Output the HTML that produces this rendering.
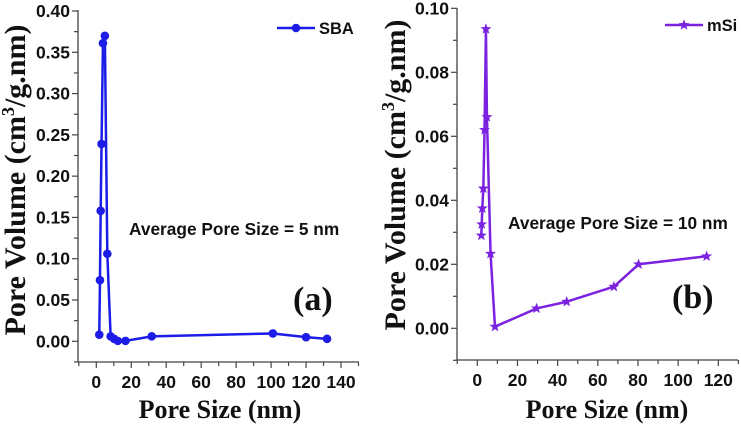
<!DOCTYPE html>
<html><head><meta charset="utf-8"><style>
body{margin:0;background:#fff;}
svg{display:block;}
.tk{font-family:"Liberation Sans",sans-serif;font-weight:bold;font-size:17.5px;fill:#111;}
.tt{font-family:"Liberation Serif",serif;font-weight:bold;font-size:26px;fill:#111;}
.yt{font-family:"Liberation Serif",serif;font-weight:bold;font-size:30px;fill:#111;}
.an{font-family:"Liberation Sans",sans-serif;font-weight:bold;font-size:17.3px;fill:#111;}
.lg{font-family:"Liberation Sans",sans-serif;font-weight:bold;font-size:16.5px;fill:#111;}
.pl{font-family:"Liberation Serif",serif;font-weight:bold;font-size:34px;fill:#111;}
</style></head><body>
<svg id="c" width="741" height="428" viewBox="0 0 741 428" xmlns="http://www.w3.org/2000/svg"></svg>
<script>
const sbaX=[1.7,2.1,2.5,3.0,3.8,4.9,6.3,8.2,10.2,12.3,16.7,31.7,101,120,132];
const sbaY=[0.008,0.074,0.158,0.239,0.361,0.370,0.106,0.006,0.003,0.0005,0.0005,0.006,0.0095,0.005,0.003];
const msiX=[2.0,2.2,2.5,3.0,3.6,4.3,4.8,6.6,8.8,29.5,44.5,68,80.3,114.2];
const msiY=[0.029,0.0325,0.0375,0.0437,0.062,0.0935,0.066,0.0233,0.0005,0.0062,0.0083,0.013,0.020,0.0225];
const aXTicks=[0,20,40,60,80,100,120,140];
const aYTicks=["0.00","0.05","0.10","0.15","0.20","0.25","0.30","0.35","0.40"];
const bXTicks=[0,20,40,60,80,100,120];
const bYTicks=["0.00","0.02","0.04","0.06","0.08","0.10"];
const NS="http://www.w3.org/2000/svg";
const svg=document.getElementById('c');
function mk(t,a,p){const e=document.createElementNS(NS,t);for(const k in a)e.setAttribute(k,a[k]);(p||svg).appendChild(e);return e;}
function panel(o){
  const g=mk('g',{});
  
  
  const sx=v=>o.x0+(v-o.xa)*(o.x1-o.x0)/(o.xb-o.xa);
  const sy=v=>o.y0+(v-o.ya)*(o.y1-o.y0)/(o.yb-o.ya);
  const L=o.L,R=o.R,T=o.T,B=o.B;
  const ax=mk('path',{d:`M${L},${T}V${B}H${R}`,stroke:'#444',fill:'none','stroke-width':1.3},g);
  
  
  for(let v=o.xa-o.xStep/2;v<=o.xMax+0.01;v+=o.xStep/2){
    const X=sx(v); if(X<L-0.5||X>R+0.5) continue;
    const major=Math.abs((v/o.xStep)-Math.round(v/o.xStep))<0.01;
    mk('line',{x1:X,x2:X,y1:B,y2:B+(major?6:4),stroke:'#444','stroke-width':1.2},g);
  }
  o.xt.forEach(v=>{const t=mk('text',{x:sx(v),y:B+26,'text-anchor':'middle',class:'tk'},g);t.textContent=v;
    });
  const ystep=parseFloat(o.yt[1])-parseFloat(o.yt[0]);
  for(let v=o.ya-ystep/2;v<=parseFloat(o.yt[o.yt.length-1])+1e-9;v+=ystep/2){
    const Y=sy(v); if(Y>B+0.5||Y<T-0.5) continue;
    const major=Math.abs(v/ystep-Math.round(v/ystep))<0.01;
    mk('line',{x1:L,x2:L-(major?6:4),y1:Y,y2:Y,stroke:'#444','stroke-width':1.2},g);
  }
  o.yt.forEach(s=>{const t=mk('text',{x:L-8,y:sy(parseFloat(s))+6,'text-anchor':'end',class:'tk'},g);t.textContent=s;
    });
  const xt=mk('text',{x:o.xtx,y:418,'text-anchor':'middle',class:'tt'},g);xt.textContent='Pore Size (nm)';
  
  const yt=mk('text',{x:0,y:0,'text-anchor':'middle',class:'yt',transform:`translate(${o.ytx},${o.yty}) rotate(-90)`},g);
  yt.innerHTML='Pore Volume (cm<tspan dy="-11" font-size="18">3</tspan><tspan dy="11">/g.nm)</tspan>';
  
  const pts=o.X.map((v,i)=>sx(v)+','+sy(o.Y[i])).join(' ');
  const ln=mk('polyline',{points:pts,fill:'none',stroke:o.col,'stroke-width':2.5,'stroke-linejoin':'round'},g);
  
  o.X.forEach((v,i)=>{const m=o.marker(sx(v),sy(o.Y[i]),g);
    });
  const lg=mk('g',{},g);
  
  mk('line',{x1:o.lx,x2:o.lx+38,y1:o.ly,y2:o.ly,stroke:o.col,'stroke-width':2.5},lg);
  o.marker(o.lx+19,o.ly,lg);
  const lt=mk('text',{x:o.lx+42,y:o.ly+6,class:'lg'},lg);lt.textContent=o.label;
  const an=mk('text',{x:o.anx,y:o.any,class:'an'},g);an.textContent=o.ann;
  
  const pl=mk('text',{x:o.plx,y:o.ply,class:'pl'},g);pl.textContent=o.pl;
  
}
function dot(col){return (x,y,p)=>mk('circle',{cx:x,cy:y,r:4.3,fill:col},p);}
function star(col){return (x,y,p)=>{let d='';for(let k=0;k<10;k++){const r=k%2?2.4:5.8;const a=-Math.PI/2+k*Math.PI/5;d+=(k?'L':'M')+(x+r*Math.cos(a)).toFixed(2)+','+(y+r*Math.sin(a)).toFixed(2);}return mk('path',{d:d+'Z',fill:col},p);};}
panel({name:'chart-a',L:78,R:359,T:10,B:362,x0:96.3,x1:341,xa:0,xb:140,y0:341.3,y1:11,ya:0,yb:0.4,xStep:20,xMax:150,
 xt:aXTicks,yt:aYTicks,X:sbaX,Y:sbaY,col:'#1c1ce6',marker:dot('#1c1ce6'),lx:277,ly:28,label:'SBA',
 ann:'Average Pore Size = 5 nm',anx:129,any:235,pl:'(a)',plx:293,ply:310,xtx:220,ytx:25,yty:180});
panel({name:'chart-b',L:457,R:738,T:8,B:360,x0:477.3,x1:718.3,xa:0,xb:120,y0:328.3,y1:8.3,ya:0,yb:0.1,xStep:20,xMax:130,
 xt:bXTicks,yt:bYTicks,X:msiX,Y:msiY,col:'#7a22e0',marker:star('#7a22e0'),lx:665,ly:25,label:'mSi',
 ann:'Average Pore Size = 10 nm',anx:508,any:229,pl:'(b)',plx:672,ply:308,xtx:607,ytx:405,yty:175});
</script>
</body></html>
